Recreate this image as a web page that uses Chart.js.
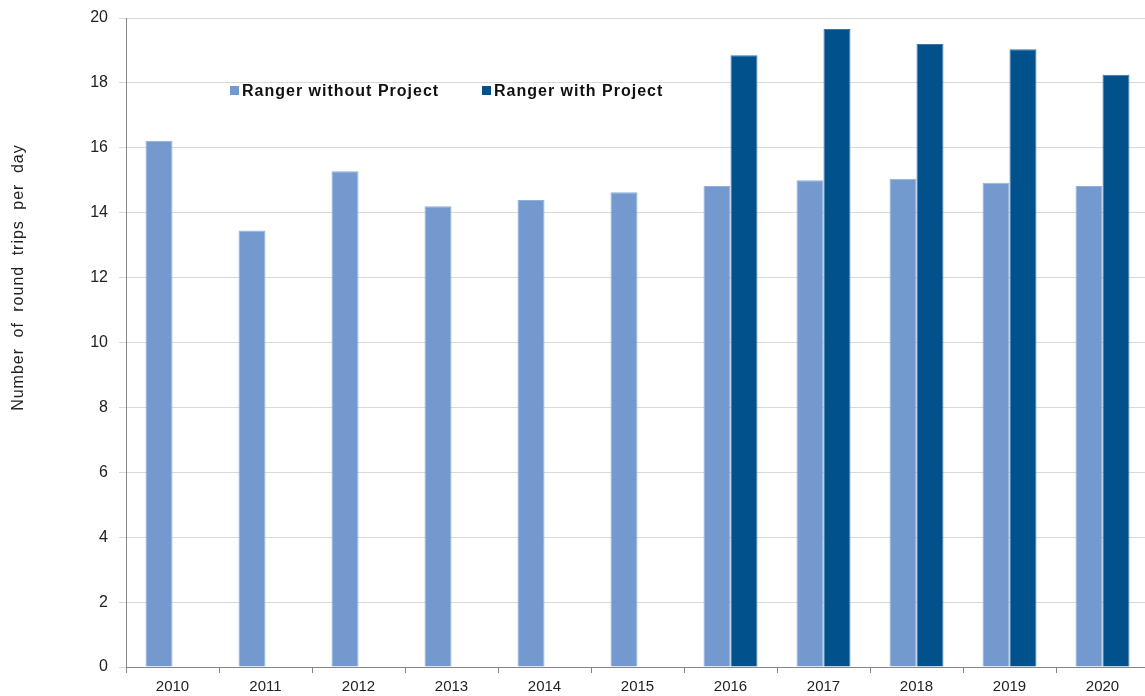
<!DOCTYPE html>
<html>
<head>
<meta charset="utf-8">
<script src="https://cdn.jsdelivr.net/npm/chart.js@4/dist/chart.umd.min.js"></script>
<style>
  body { margin: 0; background: #fff; overflow: hidden; }
  #wrap { width: 1150px; height: 696px; }
</style>
</head>
<body>
<div id="wrap"><canvas id="myChart" width="1150" height="696"></canvas></div>
<script>
const years = ['2010', '2011', '2012', '2013', '2014', '2015', '2016', '2017', '2018', '2019', '2020'];
const withoutProject = [16.22, 13.45, 15.28, 14.2, 14.39, 14.63, 14.82, 15.0, 15.05, 14.92, 14.82];
const withProject = [null, null, null, null, null, null, 18.85, 19.66, 19.2, 19.04, 18.25];
const seriesNames = ['Ranger without Project', 'Ranger with Project'];
const seriesColors = ['#7399ce', '#00518c'];
const yTitle = 'Number of round trips per day';

// legend inside the plot + the spaced out y title, like the original
const extras = {
  id: 'extras',
  afterDraw(chart) {
    const c = chart.ctx;
    const area = chart.chartArea;
    const y = chart.scales.y.getPixelForValue(17.75);
    let x = area.left + 104;
    c.save();
    c.font = 'bold 16px "Liberation Sans", Arial, sans-serif';
    c.letterSpacing = '1px';
    c.textBaseline = 'middle';
    seriesNames.forEach((name, i) => {
      c.fillStyle = seriesColors[i];
      c.fillRect(x, y - 5, 9, 9);
      c.fillStyle = '#111';
      c.fillText(name, x + 12, y + 1);
      x += 252;
    });
    c.restore();

    c.save();
    c.font = '16px "Liberation Sans", Arial, sans-serif';
    c.letterSpacing = '1px';
    c.wordSpacing = '5px';
    c.fillStyle = '#222';
    c.textAlign = 'center';
    c.textBaseline = 'middle';
    c.translate(19, chart.scales.y.getPixelForValue(12));
    c.rotate(-Math.PI / 2);
    c.fillText(yTitle, 0, 0);
    c.restore();
  }
};

const ctx = document.getElementById('myChart');
new Chart(ctx, {
  type: 'bar',
  data: {
    labels: years,
    datasets: [
      {
        label: seriesNames[0],
        data: withoutProject,
        backgroundColor: seriesColors[0],
        borderColor: '#8fb0dc',
        borderWidth: 1,
      },
      {
        label: seriesNames[1],
        data: withProject,
        backgroundColor: seriesColors[1],
        borderColor: '#3d74a8',
        borderWidth: 1,
      },
    ],
  },
  options: {
    responsive: false,
    animation: false,
    layout: { padding: { top: 18, right: 1, left: 0, bottom: 0 } },
    datasets: {
      bar: { barPercentage: 1, categoryPercentage: 0.58 },
    },
    scales: {
      x: {
        offset: true,
        border: { color: '#868686', width: 1 },
        grid: { offset: true, drawOnChartArea: false, drawTicks: true, tickLength: 6, color: '#868686' },
        ticks: {
          color: '#222',
          font: { family: '"Liberation Sans Narrow", "Liberation Sans", Arial, sans-serif', size: 15 },
          padding: 5,
          maxRotation: 0,
        },
        afterFit: (s) => { s.height = 29; },
      },
      y: {
        min: 0,
        max: 20,
        border: { color: '#868686', width: 1 },
        grid: { color: '#d9d9d9', tickLength: 7, lineWidth: 1 },
        ticks: {
          stepSize: 2,
          color: '#222',
          padding: 11,
          font: { family: '"Liberation Sans", Arial, sans-serif', size: 16 },
        },
        afterFit: (s) => {
          s.width = 126;
          s.paddingTop = 0;
          s.paddingBottom = 0;
        },
      },
    },
    plugins: {
      legend: { display: false },
      tooltip: { enabled: false },
    },
  },
  plugins: [extras],
});
</script>
</body>
</html>
